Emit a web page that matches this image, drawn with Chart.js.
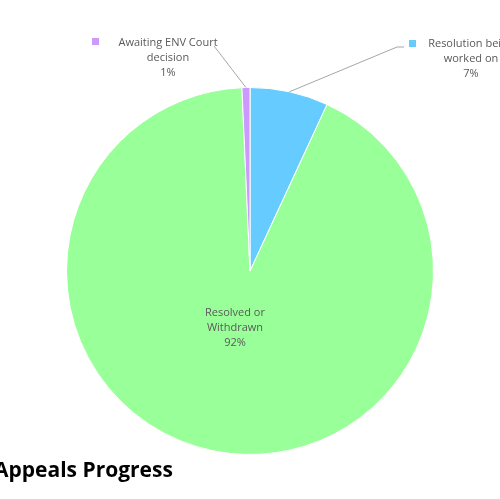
<!DOCTYPE html>
<html>
<head>
<meta charset="utf-8">
<script src="https://cdn.jsdelivr.net/npm/chart.js@4.4.0/dist/chart.umd.min.js"></script>
<style>
  html, body { margin: 0; padding: 0; background: #fff; }
  #wrap { position: relative; width: 500px; height: 500px; overflow: hidden; }
  .rule { position: absolute; left: 0; top: 499px; width: 500px; height: 1px; background: #d9d9d9; }
</style>
</head>
<body>
<div id="wrap">
  <canvas id="appealsPie" width="500" height="500"></canvas>
  <div class="rule"></div>
</div>
<script>
// clockwise from 12 o'clock
const categories = ['Resolution being worked on', 'Resolved or Withdrawn', 'Awaiting ENV Court decision'];
const shares = [6.9, 92.4, 0.7];
const labelLines = [['Resolution being', 'worked on'], ['Resolved or', 'Withdrawn'], ['Awaiting ENV Court', 'decision']];
const sliceColors = ['#66ccff', '#99ff99', '#cc99ff'];
const titleText = 'Appeals Progress';

// where each data label sits (first line centre), plus leader line ends
const labelSpots = [
  { x: 471, y: 44, keyX: 409, keyY: 40, bend: [397, 47], end: [404, 47] },
  { x: 235, y: 313 },
  { x: 168, y: 43, keyX: 92, keyY: 38, end: [214, 46] }
];

const total = shares.reduce((a, b) => a + b, 0);

const pieLabels = {
  id: 'pieLabels',
  afterDraw(chart) {
    const ctx = chart.ctx;
    const arcs = chart.getDatasetMeta(0).data;
    ctx.save();

    arcs.forEach((arc, i) => {
      const spot = labelSpots[i];
      const p = arc.getProps(['x', 'y', 'startAngle', 'endAngle', 'outerRadius'], true);
      const mid = (p.startAngle + p.endAngle) / 2;

      if (spot.end) {
        const ax = p.x + Math.cos(mid) * p.outerRadius;
        const ay = p.y + Math.sin(mid) * p.outerRadius;
        ctx.strokeStyle = '#a6a6a6';
        ctx.lineWidth = 1;
        ctx.beginPath();
        ctx.moveTo(ax, ay);
        if (spot.bend) ctx.lineTo(spot.bend[0], spot.bend[1]);
        ctx.lineTo(spot.end[0], spot.end[1]);
        ctx.stroke();
      }

      if (spot.keyX !== undefined) {
        ctx.fillStyle = sliceColors[i];
        ctx.fillRect(spot.keyX, spot.keyY, 7, 7);
      }

      const pct = Math.round(shares[i] / total * 100) + '%';
      const lines = labelLines[i].concat([pct]);
      ctx.fillStyle = '#595959';
      ctx.font = '11px "Open Sans"';
      ctx.textAlign = 'center';
      ctx.textBaseline = 'middle';
      lines.forEach((t, k) => ctx.fillText(t, spot.x, spot.y + k * 15));
    });

    ctx.fillStyle = '#000';
    ctx.font = 'bold 21px "Open Sans"';
    ctx.textAlign = 'left';
    ctx.textBaseline = 'alphabetic';
    ctx.fillText(titleText, -6, 477);
    ctx.restore();
  }
};

new Chart(document.getElementById('appealsPie'), {
  type: 'pie',
  data: {
    labels: categories,
    datasets: [{
      data: shares,
      backgroundColor: sliceColors,
      borderColor: '#ffffff',
      borderWidth: 1
    }]
  },
  options: {
    responsive: false,
    animation: false,
    layout: { padding: { top: 87, bottom: 45, left: 66, right: 66 } },
    plugins: {
      legend: { display: false },
      tooltip: { enabled: false },
      title: { display: false }
    }
  },
  plugins: [pieLabels]
});
</script>
</body>
</html>
